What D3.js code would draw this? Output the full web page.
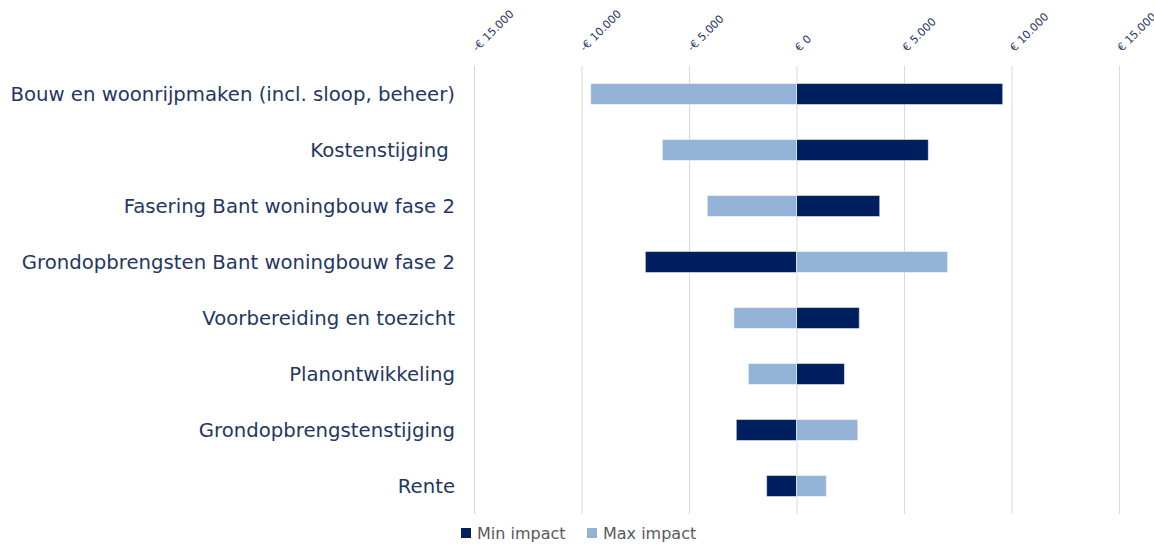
<!DOCTYPE html>
<html>
<head>
<meta charset="utf-8">
<script src="https://cdn.jsdelivr.net/npm/d3@7"></script>
<style>
  body { margin: 0; background: #fff; }
  text { white-space: pre; }
</style>
</head>
<body>
<div id="chart"></div>
<script>
// categories top to bottom
var categories = [
  "Bouw en woonrijpmaken (incl. sloop, beheer)",
  "Kostenstijging ",
  "Fasering Bant woningbouw fase 2",
  "Grondopbrengsten Bant woningbouw fase 2",
  "Voorbereiding en toezicht",
  "Planontwikkeling",
  "Grondopbrengstenstijging",
  "Rente"
];
var minImpact = [9590, 6130, 3870, -7030, 2920, 2230, -2800, -1390];
var maxImpact = [-9570, -6240, -4150, 7030, -2910, -2240, 2850, 1390];
var ticks = [-15000, -10000, -5000, 0, 5000, 10000, 15000];
var seriesNames = ["Min impact", "Max impact"];
var colors = ["#001F5F", "#95B3D7"];

var W = 1154, H = 550;
var svg = d3.select("#chart").append("svg")
  .attr("width", W).attr("height", H);

var x = d3.scaleLinear().domain([-15000, 15000]).range([474, 1119]);
var y = d3.scaleBand().domain(categories).range([66, 514]).paddingInner(0.625).paddingOuter(0.3125);

var fmt = function(v) {
  var s = d3.format(",")(Math.abs(v)).replace(/,/g, ".");
  return (v < 0 ? "-" : "") + "€ " + s;
};

// gridlines
svg.append("g").selectAll("line").data(ticks).enter().append("line")
  .attr("x1", function(d) { return x(d) + 0.5; })
  .attr("x2", function(d) { return x(d) + 0.5; })
  .attr("y1", 66).attr("y2", 514)
  .attr("stroke", "#d9d9d9").attr("stroke-width", 1);

// tick labels, rotated
svg.append("g").selectAll("text").data(ticks).enter().append("text")
  .attr("transform", function(d) { return "translate(" + (x(d) + 3) + ",52) rotate(-45)"; })
  .attr("font-family", "DejaVu Sans, Verdana, sans-serif")
  .attr("font-size", 11)
  .attr("fill", "#1F3864")
  .text(fmt);

// bars
var rows = categories.map(function(c, i) { return { cat: c, vals: [minImpact[i], maxImpact[i]] }; });
var g = svg.append("g");
rows.forEach(function(r) {
  r.vals.forEach(function(v, k) {
    g.append("rect")
      .attr("x", x(Math.min(0, v)))
      .attr("y", y(r.cat))
      .attr("width", Math.abs(x(v) - x(0)))
      .attr("height", y.bandwidth())
      .attr("fill", colors[k])
      .attr("stroke", "#ffffff").attr("stroke-opacity", 0.5).attr("stroke-width", 1);
  });
});

// category labels
svg.append("g").selectAll("text").data(categories).enter().append("text")
  .attr("x", 455)
  .attr("y", function(d) { return y(d) + y.bandwidth() / 2; })
  .attr("dy", "0.35em")
  .attr("text-anchor", "end")
  .attr("font-family", "DejaVu Sans, Verdana, sans-serif")
  .attr("font-size", 19.7)
  .attr("fill", "#1F3864")
  .text(function(d) { return d; });

// legend
var leg = svg.append("g").attr("transform", "translate(461,528)");
var lx = [0, 126];
seriesNames.forEach(function(n, i) {
  leg.append("rect").attr("x", lx[i]).attr("y", 0).attr("width", 10).attr("height", 10).attr("fill", colors[i]);
  leg.append("text").attr("x", lx[i] + 16).attr("y", 5).attr("dy", "0.35em")
    .attr("font-family", "DejaVu Sans, Verdana, sans-serif")
    .attr("font-size", 16).attr("fill", "#595959").text(n);
});
</script>
</body>
</html>
